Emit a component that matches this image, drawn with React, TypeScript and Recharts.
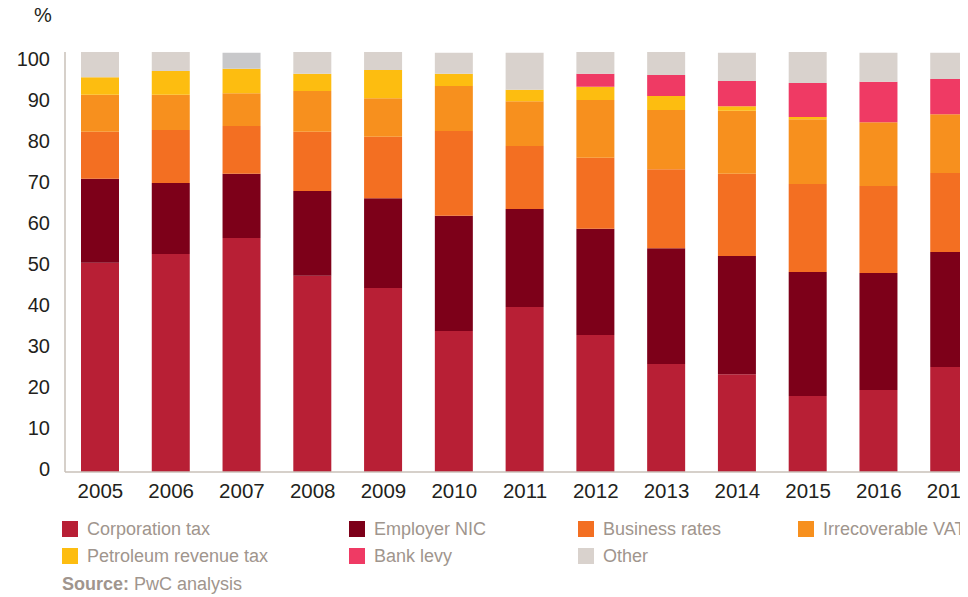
import React from 'react';
import { BarChart, Bar, XAxis, YAxis, Cell } from 'recharts';

const years = ['2005', '2006', '2007', '2008', '2009', '2010', '2011', '2012', '2013', '2014', '2015', '2016', '2017'];
const corporationTax = [49.8, 51.9, 55.7, 46.7, 43.8, 33.6, 39.3, 32.6, 25.7, 23.3, 18.1, 19.5, 25.0];
const employerNic = [20.0, 16.9, 15.3, 20.2, 21.4, 27.4, 23.3, 25.3, 27.6, 28.1, 29.5, 27.9, 27.4];
const businessRates = [11.2, 12.6, 11.4, 14.1, 14.6, 20.2, 15.0, 16.9, 18.8, 19.6, 21.0, 20.7, 18.8];
const irrecoverableVat = [8.8, 8.4, 7.8, 9.7, 9.2, 10.7, 10.7, 13.8, 14.1, 15.0, 15.4, 15.2, 14.0];
const petroleumRevenueTax = [4.2, 5.7, 5.8, 4.1, 6.7, 2.9, 2.7, 3.1, 3.3, 1.1, 0.5, 0, 0];
const bankLevy = [0, 0, 0, 0, 0, 0, 0, 3.1, 5.0, 6.0, 8.1, 9.6, 8.4];
const other = [6.0, 4.5, 3.8, 5.2, 4.3, 5.0, 8.8, 5.2, 5.5, 6.7, 7.4, 6.9, 6.2];
const yTicks = [0, 10, 20, 30, 40, 50, 60, 70, 80, 90, 100];

const series = [
  { key: 'corp', name: 'Corporation tax', color: '#b81f35' },
  { key: 'nic', name: 'Employer NIC', color: '#7d0019' },
  { key: 'rates', name: 'Business rates', color: '#f36f22' },
  { key: 'vat', name: 'Irrecoverable VAT', color: '#f7901e' },
  { key: 'prt', name: 'Petroleum revenue tax', color: '#fdbd10' },
  { key: 'levy', name: 'Bank levy', color: '#ef3a64' },
  { key: 'other', name: 'Other', color: '#d9d2cd' },
];

const data = years.map((year, i) => ({
  year,
  corp: corporationTax[i],
  nic: employerNic[i],
  rates: businessRates[i],
  vat: irrecoverableVat[i],
  prt: petroleumRevenueTax[i],
  levy: bankLevy[i],
  other: other[i],
}));

// legend slots: [left, top] of the swatch, page coords
const legendPos = [
  [62, 521], [349, 521], [578, 521], [798, 521],
  [62, 548], [349, 548], [578, 548],
];

const textColor = '#231f20';
const legendColor = '#a0958d';
const axisColor = '#c8c0b9';

const YTick = (props: any) => {
  const { x, y, payload } = props;
  // labels sit on a slightly tighter spacing than the bars
  const shift = -3 + 0.1 * payload.value;
  return (
    <text x={x} y={y + shift} dy="0.355em" textAnchor="end" fontSize={20} fill={textColor}>
      {payload.value}
    </text>
  );
};

export default function App() {
  return (
    <div
      style={{
        position: 'relative',
        margin: '-8px 0 0 -8px',
        width: 968,
        height: 597,
        overflow: 'hidden',
        fontFamily: '"Liberation Sans", Arial, sans-serif',
        background: '#fff',
      }}
    >
      <span style={{ position: 'absolute', left: 34, top: 4, fontSize: 20, lineHeight: '22px', color: textColor }}>%</span>
      <BarChart
        width={1008}
        height={512}
        data={data}
        margin={{ top: 52, right: 23, bottom: 0, left: 0 }}
        barSize={38}
      >
        <XAxis
          dataKey="year"
          interval={0}
          tickLine={false}
          tickMargin={5}
          axisLine={{ stroke: axisColor, strokeWidth: 1.5 }}
          tick={{ fill: textColor, fontSize: 20.5 }}
          height={40}
        />
        <YAxis
          domain={[0, 100]}
          ticks={yTicks}
          width={65}
          tickLine={false}
          tickMargin={9}
          axisLine={{ stroke: axisColor, strokeWidth: 1.5 }}
          tick={<YTick />}
        />
        {series.map((s) => (
          <Bar key={s.key} dataKey={s.key} stackId="a" fill={s.color} isAnimationActive={false}>
            {s.key === 'other'
              ? data.map((d) => <Cell key={d.year} fill={d.year === '2007' ? '#c8c8ca' : s.color} />)
              : null}
          </Bar>
        ))}
      </BarChart>
      {series.map((s, i) => (
        <div key={s.key} style={{ position: 'absolute', left: legendPos[i][0], top: legendPos[i][1] }}>
          <div style={{ position: 'absolute', left: 0, top: 0, width: 16, height: 16, background: s.color }} />
          <div
            style={{
              position: 'absolute',
              left: 25,
              top: -3,
              fontSize: 18,
              lineHeight: '22px',
              color: legendColor,
              whiteSpace: 'nowrap',
            }}
          >
            {s.name}
          </div>
        </div>
      ))}
      <div
        style={{ position: 'absolute', left: 62, top: 573, fontSize: 18, lineHeight: '22px', color: legendColor, whiteSpace: 'nowrap' }}
      >
        <b>Source:</b> PwC analysis
      </div>
    </div>
  );
}
